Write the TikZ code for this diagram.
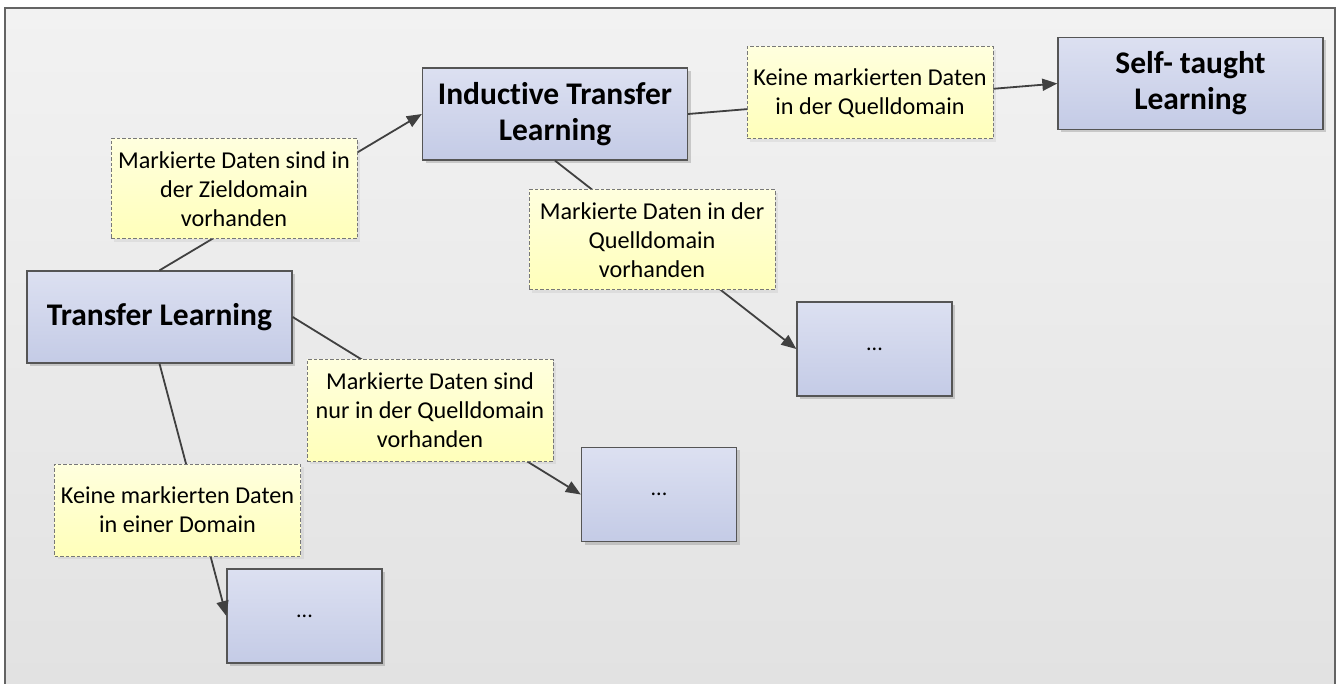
\documentclass[tikz,border=0pt]{standalone}
\usepackage{fontspec}
\setmainfont{Carlito}[Ligatures=NoCommon]
\usetikzlibrary{arrows.meta}
\usetikzlibrary{shadows}

\definecolor{bgtop}{RGB}{242,242,242}
\definecolor{bgbottom}{RGB}{226,226,226}
\definecolor{frameline}{RGB}{100,100,100}
\definecolor{boxtop}{RGB}{220,224,241}
\definecolor{boxbottom}{RGB}{196,203,230}
\definecolor{boxline}{RGB}{85,85,85}
\definecolor{notetop}{RGB}{255,255,222}
\definecolor{notebottom}{RGB}{255,255,186}
\definecolor{noteline}{RGB}{120,120,120}
\definecolor{wire}{RGB}{64,64,64}

\begin{document}
\begin{tikzpicture}[x=1pt,y=-1pt,
  learnbox/.style={draw=boxline,line width=1.3pt,top color=boxtop,bottom color=boxbottom,
    minimum width=265pt,minimum height=92pt,align=center,
    font=\fontsize{31.5}{36}\selectfont\bfseries,
    drop shadow={shadow xshift=3pt,shadow yshift=-3pt,opacity=0.35}},
  dotbox/.style={learnbox,minimum width=155pt,minimum height=94pt,
    font=\fontsize{22}{29}\selectfont},
  note/.style={draw=noteline,dash pattern=on 3.5pt off 2pt,line width=1pt,
    top color=notetop,bottom color=notebottom,
    minimum width=246pt,align=center,font=\fontsize{24.2}{29}\selectfont,
    drop shadow={shadow xshift=3pt,shadow yshift=-3pt,opacity=0.12}},
  wire/.style={draw=wire,line width=1.8pt},
  arrow/.style={wire,-{Triangle[length=15pt,width=12pt]}}]
\useasboundingbox (0,0) rectangle (1339,684);
\fill[white] (0,0) rectangle (1339,684);
% panel
\shade[top color=bgtop,bottom color=bgbottom] (5,8) rectangle (1335,684);
\draw[frameline,line width=1.2pt] (5,684) |- (1335,8) -- (1335,684);

% learning settings
\node[learnbox] (tl) at (159.5,317) {Transfer Learning};
\node[learnbox] (itl) at (555,114) {Inductive Transfer\\Learning};
\node[learnbox] (stl) at (1190.5,83.5) {Self- taught\\Learning};
\node[dotbox] (more1) at (874.5,349) {...};
\node[dotbox] (more2) at (659,494.5) {...};
\node[dotbox] (more3) at (304.5,616) {...};

% connectors
\draw[arrow] (tl.north) -- (itl.west);
\draw[arrow] (itl.east) -- (stl.west);
\draw[arrow] (itl.south) -- (more1.west);
\draw[arrow] (tl.east) -- (more2.west);
\draw[arrow] (tl.south) -- (more3.west);

% conditions
\node[note,minimum height=100pt] (zieldomain) at (234,189) {Markierte Daten sind in\\der Zieldomain\\vorhanden};
\node[note,minimum height=92pt] (keinequelle) at (870,93) {Keine markierten Daten\\in der Quelldomain};
\node[note,minimum height=100pt] (quelle) at (652,240) {Markierte Daten in der\\Quelldomain\\vorhanden};
\node[note,minimum height=101pt] (nurquelle) at (430,410.5) {Markierte Daten sind\\nur in der Quelldomain\\vorhanden};
\node[note,minimum height=92pt] (keinedomain) at (177.5,510) {Keine markierten Daten\\in einer Domain};
\end{tikzpicture}
\end{document}
